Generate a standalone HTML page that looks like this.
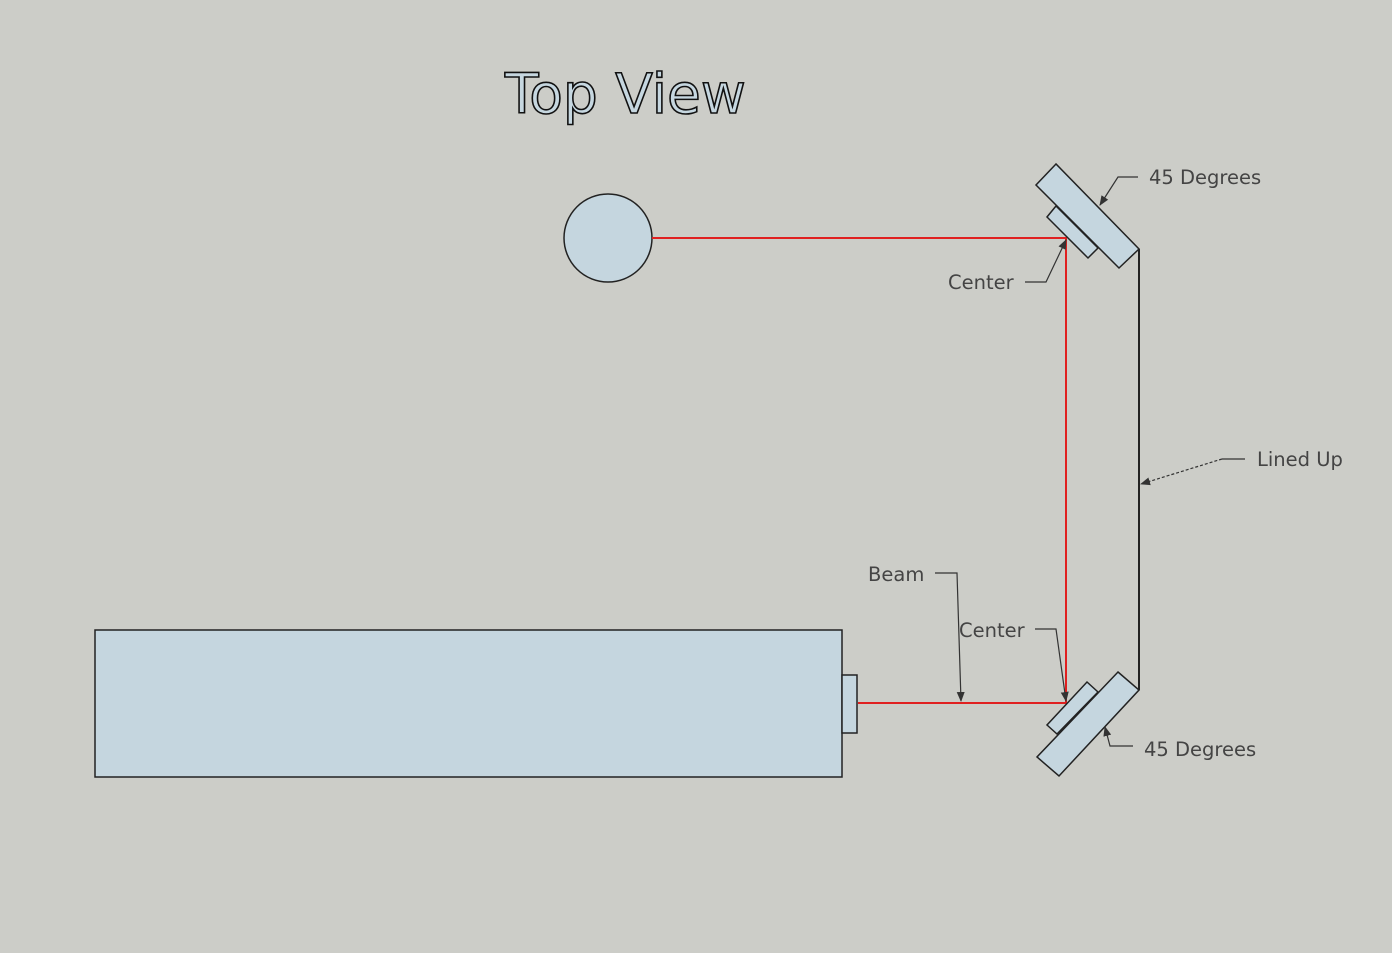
<!DOCTYPE html>
<html><head><meta charset="utf-8"><style>
html,body{margin:0;padding:0;background:#cccdc8;}
svg{display:block}
text{font-family:"DejaVu Sans","Liberation Sans",sans-serif;font-size:19.5px;fill:#444;}
</style></head><body>
<svg width="1392" height="953" viewBox="0 0 1392 953" xmlns="http://www.w3.org/2000/svg">
<defs>
<marker id="a" markerWidth="10" markerHeight="10" refX="9" refY="5" orient="auto" markerUnits="userSpaceOnUse">
<path d="M0,1 L10,5 L0,9 Z" fill="#333"/></marker>
</defs>
<rect width="1392" height="953" fill="#cccdc8"/>
<text x="505" y="113" style="font-size:55px;fill:#c6d7e0;stroke:#111;stroke-width:1.6px">Top View</text>
<rect x="95" y="630" width="747" height="147" fill="#c5d6df" stroke="#222" stroke-width="1.5"/>
<rect x="842" y="675" width="15" height="58" fill="#c5d6df" stroke="#222" stroke-width="1.5"/>
<circle cx="608" cy="238" r="44" fill="#c5d6df" stroke="#222" stroke-width="1.5"/>
<polyline points="652,238 1066,238 1066,703 858,703" fill="none" stroke="#e02020" stroke-width="2"/>
<line x1="1139" y1="249" x2="1139" y2="690" stroke="#222" stroke-width="2"/>
<polygon points="1056,206 1047,217 1088,258 1098,248" fill="#c5d6df" stroke="#222" stroke-width="1.5"/>
<polygon points="1056,164 1036,185 1119,268 1139,249" fill="#c5d6df" stroke="#222" stroke-width="1.5"/>
<polygon points="1087,682 1098,692 1057,734 1047,725" fill="#c5d6df" stroke="#222" stroke-width="1.5"/>
<polygon points="1118,672 1139,690 1059,776 1037,757" fill="#c5d6df" stroke="#222" stroke-width="1.5"/>
<g fill="none" stroke="#333" stroke-width="1.2">
<polyline points="1138,177 1118,177 1100,205" marker-end="url(#a)"/>
<polyline points="1025,282 1046,282 1066,240" marker-end="url(#a)"/>
<polyline points="1245,459 1222,459" />
<polyline points="1222,459 1141,484" stroke-dasharray="3,2" marker-end="url(#a)"/>
<polyline points="935,573 957,573 961,701" marker-end="url(#a)"/>
<polyline points="1035,629 1056,629 1066,701" marker-end="url(#a)"/>
<polyline points="1133,746 1110,746 1105,727" marker-end="url(#a)"/>
</g>
<text x="1149" y="184">45 Degrees</text>
<text x="948" y="289">Center</text>
<text x="1257" y="466">Lined Up</text>
<text x="868" y="581">Beam</text>
<text x="959" y="637">Center</text>
<text x="1144" y="756">45 Degrees</text>
</svg>
</body></html>
